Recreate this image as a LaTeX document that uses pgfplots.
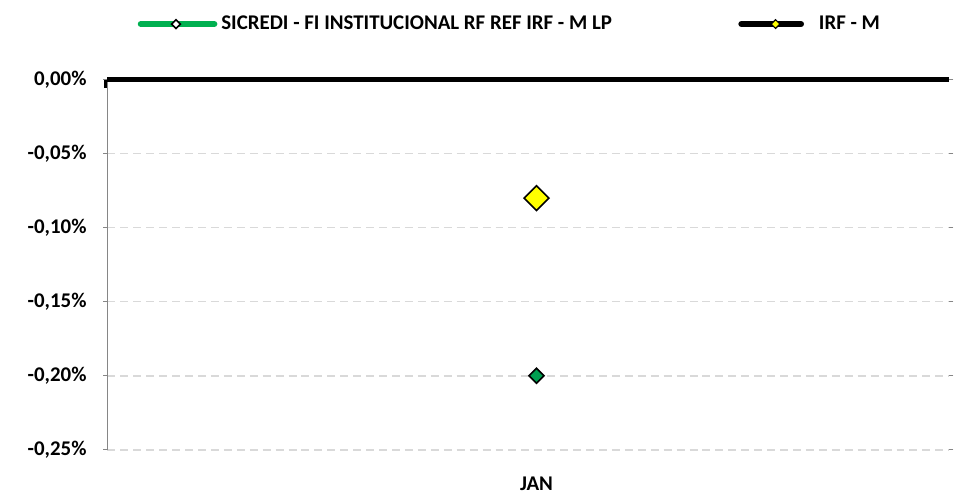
\documentclass[border=0pt]{standalone}
\usepackage{fontspec}
\setmainfont{Carlito}
\usepackage{pgfplots}
\pgfplotsset{compat=1.18}
\definecolor{sicredi}{RGB}{0,176,80}
\definecolor{sicm}{RGB}{0,158,80}
\definecolor{irfy}{RGB}{255,255,0}
\definecolor{gridc}{RGB}{217,217,217}
\definecolor{axisc}{RGB}{134,134,134}
\newcommand{\lbl}{\bfseries\fontsize{10.5}{12}\selectfont}
\begin{document}
\begin{tikzpicture}
\path (0,0) rectangle (477pt,249pt);
\begin{axis}[
  at={(54pt,23pt)}, anchor=south west,
  scale only axis, width=423pt, height=186pt,
  xmin=-0.5, xmax=0.481, ymin=-0.25, ymax=0,
  clip=false,
  axis line style={draw=none},
  xtick={0}, xticklabels={JAN},
  major x tick style={draw=none},
  xticklabel style={font=\lbl, yshift=-8pt},
  ytick={-0.25,-0.2,-0.15,-0.1,-0.05,0},
  yticklabels={{-0,25\%},{-0,20\%},{-0,15\%},{-0,10\%},{-0,05\%},{0,00\%}},
  yticklabel style={font=\lbl, xshift=-5pt},
  tick align=outside, major tick length=2pt,
  major y tick style={axisc, line width=0.75pt},
  ymajorgrids,
  grid style={gridc, line width=0.8pt, dash pattern=on 4pt off 2.5pt},
  legend style={at={(0.0355,1.15)}, anchor=west, draw=none, fill=none,
    inner sep=0pt, font=\lbl, legend columns=2,
    /tikz/every even column/.append style={column sep=61.5pt}},
]
\draw[axisc, line width=0.75pt] (axis cs:-0.5,-0.25) -- (axis cs:-0.5,0);
\draw[black, line width=2.2pt] (axis cs:-0.5,0) -- (axis cs:0.481,0);
\draw[black, line width=1.5pt] ([xshift=-1.2pt]axis cs:-0.5,0) -- ([xshift=-1.2pt,yshift=-4pt]axis cs:-0.5,0);
\addplot[only marks, mark=square*, mark size=2.65pt,
  mark options={rotate=45, fill=sicm, draw=black, line width=0.8pt},
  legend image code/.code={
    \draw[sicredi, line width=3pt, line cap=round] (0pt,0pt) -- (37pt,0pt);
    \draw[black, fill=white, line width=0.8pt] (15.5pt,0pt) -- (17.7pt,2.2pt)
      -- (19.9pt,0pt) -- (17.7pt,-2.2pt) -- cycle;}]
  coordinates {(0,-0.20)};
\addlegendentry{SICREDI - FI INSTITUCIONAL RF REF IRF - M LP}
\addplot[only marks, mark=square*, mark size=4.4pt,
  mark options={rotate=45, fill=irfy, draw=black, line width=0.8pt},
  legend image code/.code={
    \path[draw=none, fill=none] (0pt,0pt) -- (37pt,0pt);
    \draw[black, line width=3pt, line cap=round] (0pt,0pt) -- (30pt,0pt);
    \draw[black, fill=irfy, line width=0.6pt] (15pt,0pt) -- (17.2pt,2.2pt)
      -- (19.4pt,0pt) -- (17.2pt,-2.2pt) -- cycle;}]
  coordinates {(0,-0.08)};
\addlegendentry{IRF - M}
\end{axis}
\end{tikzpicture}
\end{document}
